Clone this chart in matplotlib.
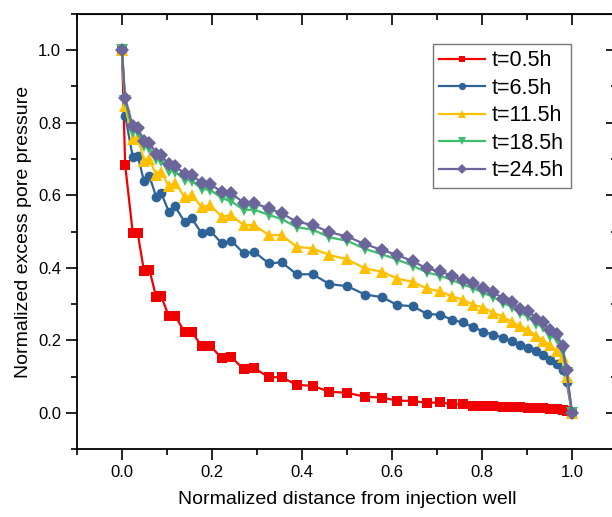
import matplotlib
matplotlib.use("Agg")
import matplotlib.pyplot as plt
from matplotlib.ticker import MultipleLocator

plt.rcParams['font.family'] = ['Liberation Sans', 'DejaVu Sans']

x = [0.0, 0.007, 0.024, 0.035, 0.049, 0.061, 0.076, 0.087, 0.104, 0.118,
     0.139, 0.155, 0.177, 0.196, 0.222, 0.243, 0.270, 0.294, 0.326, 0.355,
     0.388, 0.424, 0.461, 0.501, 0.540, 0.578, 0.612, 0.646, 0.677, 0.707,
     0.733, 0.757, 0.781, 0.803, 0.825, 0.847, 0.866, 0.884, 0.903, 0.921,
     0.936, 0.951, 0.966, 0.979, 0.988, 1.0]

t05 = [1.0, 0.684, 0.495, 0.495, 0.390, 0.394, 0.319, 0.322, 0.266, 0.268,
       0.222, 0.224, 0.183, 0.185, 0.150, 0.153, 0.121, 0.123, 0.098, 0.098,
       0.077, 0.074, 0.058, 0.055, 0.044, 0.042, 0.033, 0.033, 0.027, 0.029,
       0.023, 0.023, 0.020, 0.019, 0.018, 0.017, 0.016, 0.015, 0.014, 0.013,
       0.012, 0.011, 0.009, 0.007, 0.005, 0.0]

t65 = [1.0, 0.820, 0.705, 0.709, 0.638, 0.652, 0.596, 0.606, 0.555, 0.569,
       0.527, 0.536, 0.495, 0.502, 0.467, 0.475, 0.440, 0.444, 0.412, 0.415,
       0.382, 0.382, 0.355, 0.349, 0.326, 0.319, 0.297, 0.294, 0.273, 0.270,
       0.257, 0.249, 0.236, 0.224, 0.215, 0.207, 0.198, 0.188, 0.178, 0.169,
       0.158, 0.146, 0.135, 0.118, 0.085, 0.0]

t115 = [1.0, 0.845, 0.755, 0.760, 0.695, 0.700, 0.655, 0.665, 0.625, 0.635,
        0.595, 0.600, 0.568, 0.572, 0.541, 0.545, 0.518, 0.518, 0.490, 0.490,
        0.458, 0.453, 0.435, 0.423, 0.398, 0.389, 0.370, 0.361, 0.343, 0.335,
        0.321, 0.312, 0.298, 0.290, 0.276, 0.265, 0.250, 0.240, 0.227, 0.213,
        0.199, 0.186, 0.169, 0.153, 0.100, 0.0]

t185 = [1.0, 0.860, 0.775, 0.775, 0.735, 0.730, 0.700, 0.695, 0.668, 0.665,
        0.643, 0.640, 0.618, 0.615, 0.592, 0.583, 0.560, 0.560, 0.546, 0.534,
        0.512, 0.505, 0.484, 0.474, 0.452, 0.437, 0.422, 0.406, 0.387, 0.378,
        0.366, 0.354, 0.344, 0.330, 0.320, 0.302, 0.293, 0.274, 0.267, 0.246,
        0.236, 0.213, 0.203, 0.170, 0.110, 0.0]

t245 = [1.0, 0.869, 0.790, 0.785, 0.750, 0.745, 0.715, 0.710, 0.685, 0.680,
        0.660, 0.655, 0.635, 0.630, 0.610, 0.605, 0.580, 0.578, 0.564, 0.550,
        0.527, 0.518, 0.498, 0.486, 0.465, 0.449, 0.435, 0.418, 0.398, 0.390,
        0.378, 0.366, 0.357, 0.343, 0.333, 0.315, 0.306, 0.287, 0.281, 0.260,
        0.250, 0.227, 0.218, 0.183, 0.118, 0.0]

labels = ['t=0.5h', 't=6.5h', 't=11.5h', 't=18.5h', 't=24.5h']
series = [t05, t65, t115, t185, t245]
colors = ['#F00000', '#2E6398', '#FFC000', '#3DBE6C', '#6A669C']
markers = ['s', 'o', '^', 'v', 'D']
msizes = [6.5, 7, 8, 8, 7]

fig = plt.figure(figsize=(6.12, 5.17), dpi=100)
ax = fig.add_axes([77/612, 68/517, 540/612, 435/517])

for y, lab, c, m, ms in zip(series, labels, colors, markers, msizes):
    ax.plot(x, y, color=c, marker=m, markersize=ms, linewidth=1.6, label=lab,
            markeredgewidth=0)

ax.set_xlim(-0.1, 1.1)
ax.set_ylim(-0.1, 1.1)
ax.xaxis.set_major_locator(MultipleLocator(0.2))
ax.xaxis.set_minor_locator(MultipleLocator(0.1))
ax.yaxis.set_major_locator(MultipleLocator(0.2))
ax.yaxis.set_minor_locator(MultipleLocator(0.1))
ax.tick_params(which='major', direction='out', length=8, width=1.2, labelsize=12)
ax.tick_params(which='minor', direction='out', length=4, width=1.2)
for s in ax.spines.values():
    s.set_linewidth(1.3)

secx = ax.secondary_xaxis('top')
secx.xaxis.set_major_locator(MultipleLocator(0.2))
secx.xaxis.set_minor_locator(MultipleLocator(0.1))
secx.tick_params(which='major', direction='in', length=8, width=1.2, labeltop=False)
secx.tick_params(which='minor', direction='in', length=4, width=1.2)
secy = ax.secondary_yaxis('right')
secy.yaxis.set_major_locator(MultipleLocator(0.2))
secy.yaxis.set_minor_locator(MultipleLocator(0.1))
secy.tick_params(which='major', direction='in', length=8, width=1.2, labelright=False)
secy.tick_params(which='minor', direction='in', length=4, width=1.2)

ax.set_xlabel('Normalized distance from injection well', fontsize=14, labelpad=8)
ax.set_ylabel('Normalized excess pore pressure', fontsize=14, labelpad=4)

leg = ax.legend(loc='upper left', bbox_to_anchor=(0.659, 0.931), fontsize=15.5,
                frameon=True, fancybox=False, edgecolor='#555555',
                handlelength=2.1, handletextpad=0.35, borderpad=0.3,
                labelspacing=0.3, markerscale=0.75, borderaxespad=0)
leg.get_frame().set_linewidth(1.0)

fig.savefig('out.png', dpi=100)
